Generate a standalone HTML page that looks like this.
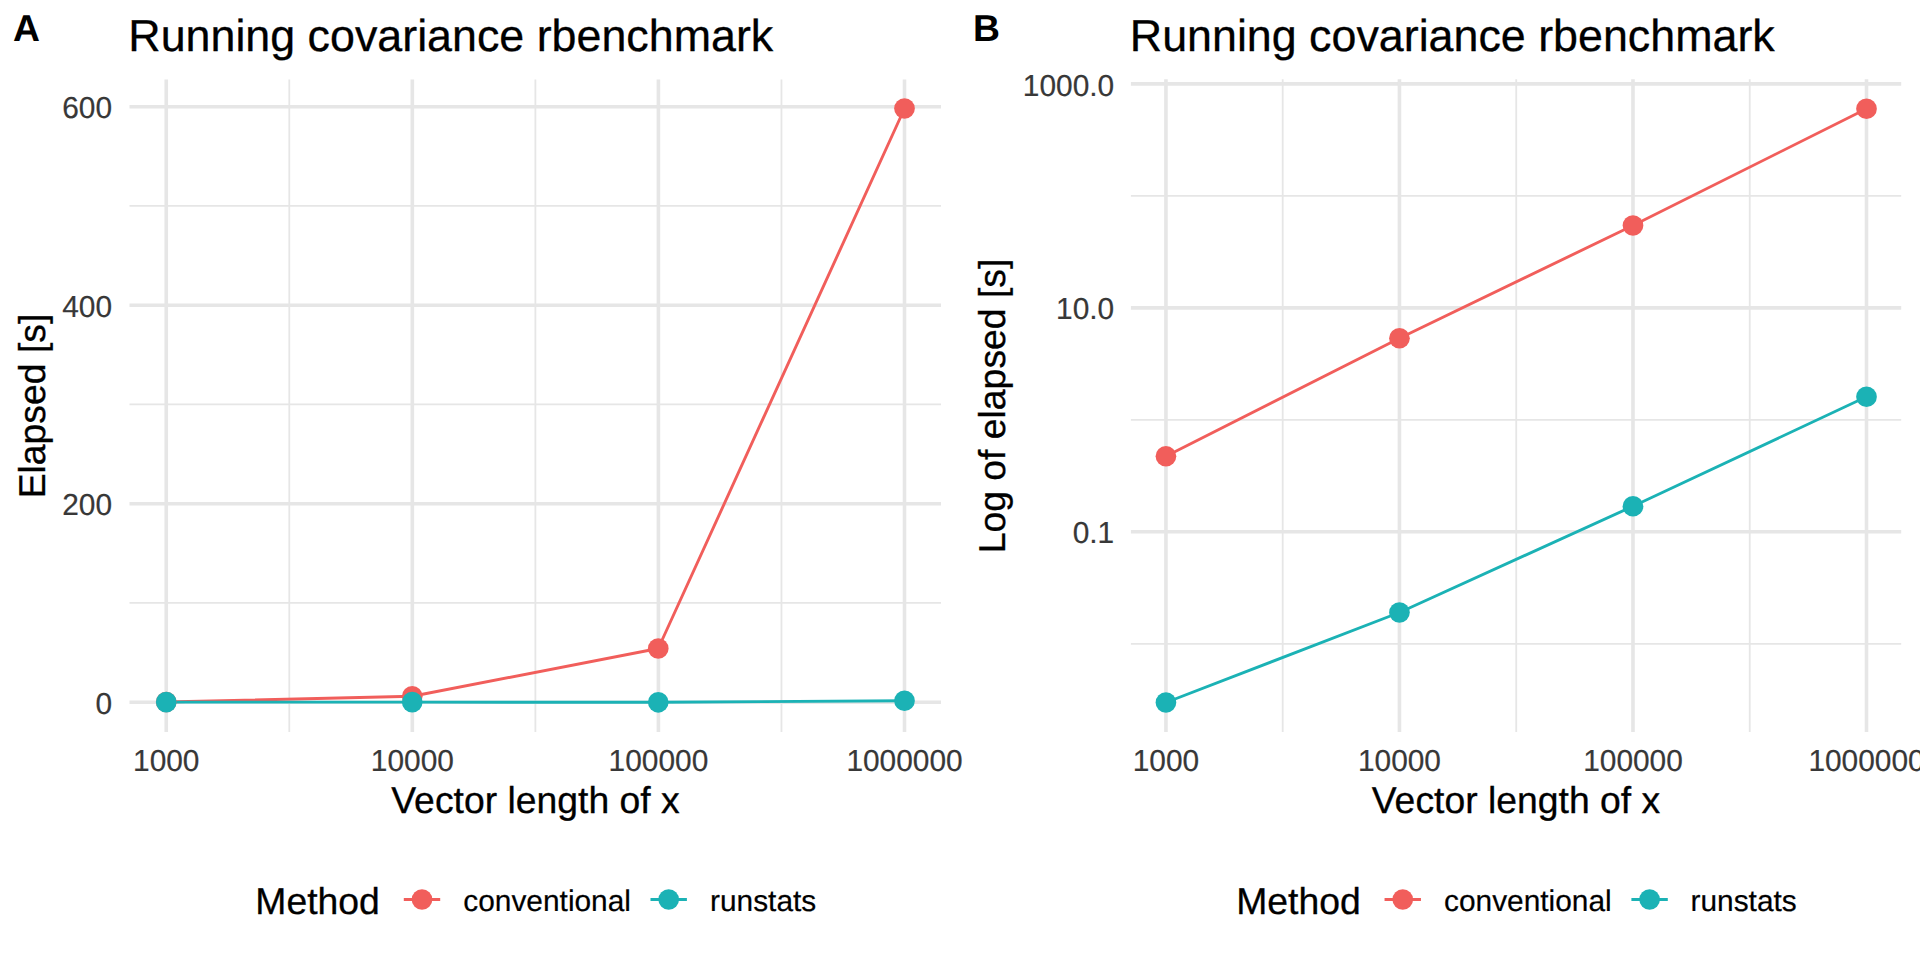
<!DOCTYPE html>
<html lang="en"><head><meta charset="utf-8"><title>Running covariance rbenchmark</title>
<style>
html,body{margin:0;padding:0;background:#fff;}
body{width:1920px;height:960px;overflow:hidden;}
svg{display:block;font-family:"Liberation Sans",sans-serif;}
svg text{text-rendering:geometricPrecision;}
</style></head><body>
<svg width="1920" height="960" viewBox="0 0 1920 960">
<rect width="1920" height="960" fill="#fff"/>
<line x1="129.5" x2="941.0" y1="205.95" y2="205.95" stroke="#E6E6E6" stroke-width="1.8"/>
<line x1="129.5" x2="941.0" y1="404.45" y2="404.45" stroke="#E6E6E6" stroke-width="1.8"/>
<line x1="129.5" x2="941.0" y1="602.95" y2="602.95" stroke="#E6E6E6" stroke-width="1.8"/>
<line x1="289.29" x2="289.29" y1="79.4" y2="731.9" stroke="#E6E6E6" stroke-width="1.8"/>
<line x1="535.38" x2="535.38" y1="79.4" y2="731.9" stroke="#E6E6E6" stroke-width="1.8"/>
<line x1="781.46" x2="781.46" y1="79.4" y2="731.9" stroke="#E6E6E6" stroke-width="1.8"/>
<line x1="129.5" x2="941.0" y1="106.7" y2="106.7" stroke="#E6E6E6" stroke-width="3.6"/>
<line x1="129.5" x2="941.0" y1="305.2" y2="305.2" stroke="#E6E6E6" stroke-width="3.6"/>
<line x1="129.5" x2="941.0" y1="503.7" y2="503.7" stroke="#E6E6E6" stroke-width="3.6"/>
<line x1="129.5" x2="941.0" y1="702.2" y2="702.2" stroke="#E6E6E6" stroke-width="3.6"/>
<line x1="166.25" x2="166.25" y1="79.4" y2="731.9" stroke="#E6E6E6" stroke-width="3.6"/>
<line x1="412.33" x2="412.33" y1="79.4" y2="731.9" stroke="#E6E6E6" stroke-width="3.6"/>
<line x1="658.42" x2="658.42" y1="79.4" y2="731.9" stroke="#E6E6E6" stroke-width="3.6"/>
<line x1="904.5" x2="904.5" y1="79.4" y2="731.9" stroke="#E6E6E6" stroke-width="3.6"/>
<polyline fill="none" stroke="#F15E5B" stroke-width="2.9" stroke-linejoin="round" points="166.25,702 412.25,696.25 658.25,648.5 904.5,108.5"/>
<polyline fill="none" stroke="#1BB2B5" stroke-width="2.9" stroke-linejoin="round" points="166.25,702.1 412.25,702.1 658.25,702.3 904.5,700.75"/>
<circle cx="166.25" cy="702" r="10.35" fill="#F15E5B"/>
<circle cx="412.25" cy="696.25" r="10.35" fill="#F15E5B"/>
<circle cx="658.25" cy="648.5" r="10.35" fill="#F15E5B"/>
<circle cx="904.5" cy="108.5" r="10.35" fill="#F15E5B"/>
<circle cx="166.25" cy="702.1" r="10.35" fill="#1BB2B5"/>
<circle cx="412.25" cy="702.1" r="10.35" fill="#1BB2B5"/>
<circle cx="658.25" cy="702.3" r="10.35" fill="#1BB2B5"/>
<circle cx="904.5" cy="700.75" r="10.35" fill="#1BB2B5"/>
<text x="13" y="41.25" font-size="37.33" fill="#000" font-weight="bold">A</text>
<text x="128.3" y="51.25" font-size="44.8" fill="#000" stroke="#000" stroke-width="0.3">Running covariance rbenchmark</text>
<text transform="translate(112 118.3) scale(1 1.02)" font-size="29.87" fill="#383838" text-anchor="end" stroke="#383838" stroke-width="0.2">600</text>
<text transform="translate(112 316.8) scale(1 1.02)" font-size="29.87" fill="#383838" text-anchor="end" stroke="#383838" stroke-width="0.2">400</text>
<text transform="translate(112 515.3) scale(1 1.02)" font-size="29.87" fill="#383838" text-anchor="end" stroke="#383838" stroke-width="0.2">200</text>
<text transform="translate(112 713.8000000000001) scale(1 1.02)" font-size="29.87" fill="#383838" text-anchor="end" stroke="#383838" stroke-width="0.2">0</text>
<text transform="translate(166.25 771.2) scale(1 1.02)" font-size="29.87" fill="#383838" text-anchor="middle" stroke="#383838" stroke-width="0.2">1000</text>
<text transform="translate(412.33 771.2) scale(1 1.02)" font-size="29.87" fill="#383838" text-anchor="middle" stroke="#383838" stroke-width="0.2">10000</text>
<text transform="translate(658.42 771.2) scale(1 1.02)" font-size="29.87" fill="#383838" text-anchor="middle" stroke="#383838" stroke-width="0.2">100000</text>
<text transform="translate(904.5 771.2) scale(1 1.02)" font-size="29.87" fill="#383838" text-anchor="middle" stroke="#383838" stroke-width="0.2">1000000</text>
<text x="535.5" y="813" font-size="37.33" fill="#000" text-anchor="middle" stroke="#000" stroke-width="0.3">Vector length of x</text>
<text transform="translate(45 406) rotate(-90)" font-size="37.33" fill="#000" text-anchor="middle" stroke="#000" stroke-width="0.3">Elapsed [s]</text>
<text x="255.3" y="913.75" font-size="37.33" fill="#000" stroke="#000" stroke-width="0.3">Method</text>
<line x1="403.8" x2="440.2" y1="899.5" y2="899.5" stroke="#F15E5B" stroke-width="2.9"/>
<circle cx="422" cy="899.5" r="10.35" fill="#F15E5B"/>
<text x="463.3" y="911.25" font-size="29.87" fill="#000" stroke="#000" stroke-width="0.2">conventional</text>
<line x1="650.5" x2="686.9000000000001" y1="899.5" y2="899.5" stroke="#1BB2B5" stroke-width="2.9"/>
<circle cx="668.7" cy="899.5" r="10.35" fill="#1BB2B5"/>
<text x="710" y="911.25" font-size="29.87" fill="#000" stroke="#000" stroke-width="0.2">runstats</text>
<line x1="1130.9" x2="1901.2" y1="195.87" y2="195.87" stroke="#E6E6E6" stroke-width="1.8"/>
<line x1="1130.9" x2="1901.2" y1="419.82" y2="419.82" stroke="#E6E6E6" stroke-width="1.8"/>
<line x1="1130.9" x2="1901.2" y1="643.8" y2="643.8" stroke="#E6E6E6" stroke-width="1.8"/>
<line x1="1282.7" x2="1282.7" y1="79.3" y2="731.9" stroke="#E6E6E6" stroke-width="1.8"/>
<line x1="1516.22" x2="1516.22" y1="79.3" y2="731.9" stroke="#E6E6E6" stroke-width="1.8"/>
<line x1="1749.74" x2="1749.74" y1="79.3" y2="731.9" stroke="#E6E6E6" stroke-width="1.8"/>
<line x1="1130.9" x2="1901.2" y1="83.9" y2="83.9" stroke="#E6E6E6" stroke-width="3.6"/>
<line x1="1130.9" x2="1901.2" y1="307.85" y2="307.85" stroke="#E6E6E6" stroke-width="3.6"/>
<line x1="1130.9" x2="1901.2" y1="531.8" y2="531.8" stroke="#E6E6E6" stroke-width="3.6"/>
<line x1="1165.94" x2="1165.94" y1="79.3" y2="731.9" stroke="#E6E6E6" stroke-width="3.6"/>
<line x1="1399.46" x2="1399.46" y1="79.3" y2="731.9" stroke="#E6E6E6" stroke-width="3.6"/>
<line x1="1632.98" x2="1632.98" y1="79.3" y2="731.9" stroke="#E6E6E6" stroke-width="3.6"/>
<line x1="1866.5" x2="1866.5" y1="79.3" y2="731.9" stroke="#E6E6E6" stroke-width="3.6"/>
<polyline fill="none" stroke="#F15E5B" stroke-width="2.9" stroke-linejoin="round" points="1165.94,456.25 1399.46,338.25 1632.98,225.5 1866.5,108.75"/>
<polyline fill="none" stroke="#1BB2B5" stroke-width="2.9" stroke-linejoin="round" points="1165.94,702.5 1399.46,612.5 1632.98,506.25 1866.5,396.75"/>
<circle cx="1165.94" cy="456.25" r="10.35" fill="#F15E5B"/>
<circle cx="1399.46" cy="338.25" r="10.35" fill="#F15E5B"/>
<circle cx="1632.98" cy="225.5" r="10.35" fill="#F15E5B"/>
<circle cx="1866.5" cy="108.75" r="10.35" fill="#F15E5B"/>
<circle cx="1165.94" cy="702.5" r="10.35" fill="#1BB2B5"/>
<circle cx="1399.46" cy="612.5" r="10.35" fill="#1BB2B5"/>
<circle cx="1632.98" cy="506.25" r="10.35" fill="#1BB2B5"/>
<circle cx="1866.5" cy="396.75" r="10.35" fill="#1BB2B5"/>
<text x="973" y="41.25" font-size="37.33" fill="#000" font-weight="bold">B</text>
<text x="1129.8" y="51.25" font-size="44.8" fill="#000" stroke="#000" stroke-width="0.3">Running covariance rbenchmark</text>
<text transform="translate(1114.2 95.5) scale(1 1.02)" font-size="29.87" fill="#383838" text-anchor="end" stroke="#383838" stroke-width="0.2">1000.0</text>
<text transform="translate(1114.2 319.45000000000005) scale(1 1.02)" font-size="29.87" fill="#383838" text-anchor="end" stroke="#383838" stroke-width="0.2">10.0</text>
<text transform="translate(1114.2 543.4) scale(1 1.02)" font-size="29.87" fill="#383838" text-anchor="end" stroke="#383838" stroke-width="0.2">0.1</text>
<text transform="translate(1165.94 771.2) scale(1 1.02)" font-size="29.87" fill="#383838" text-anchor="middle" stroke="#383838" stroke-width="0.2">1000</text>
<text transform="translate(1399.46 771.2) scale(1 1.02)" font-size="29.87" fill="#383838" text-anchor="middle" stroke="#383838" stroke-width="0.2">10000</text>
<text transform="translate(1632.98 771.2) scale(1 1.02)" font-size="29.87" fill="#383838" text-anchor="middle" stroke="#383838" stroke-width="0.2">100000</text>
<text transform="translate(1866.5 771.2) scale(1 1.02)" font-size="29.87" fill="#383838" text-anchor="middle" stroke="#383838" stroke-width="0.2">1000000</text>
<text x="1516" y="813" font-size="37.33" fill="#000" text-anchor="middle" stroke="#000" stroke-width="0.3">Vector length of x</text>
<text transform="translate(1005 406) rotate(-90)" font-size="37.33" fill="#000" text-anchor="middle" stroke="#000" stroke-width="0.3">Log of elapsed [s]</text>
<text x="1236.2" y="913.75" font-size="37.33" fill="#000" stroke="#000" stroke-width="0.3">Method</text>
<line x1="1384.55" x2="1420.95" y1="899.5" y2="899.5" stroke="#F15E5B" stroke-width="2.9"/>
<circle cx="1402.75" cy="899.5" r="10.35" fill="#F15E5B"/>
<text x="1444" y="911.25" font-size="29.87" fill="#000" stroke="#000" stroke-width="0.2">conventional</text>
<line x1="1631.3999999999999" x2="1667.8" y1="899.5" y2="899.5" stroke="#1BB2B5" stroke-width="2.9"/>
<circle cx="1649.6" cy="899.5" r="10.35" fill="#1BB2B5"/>
<text x="1690.5" y="911.25" font-size="29.87" fill="#000" stroke="#000" stroke-width="0.2">runstats</text>
</svg>
</body></html>
